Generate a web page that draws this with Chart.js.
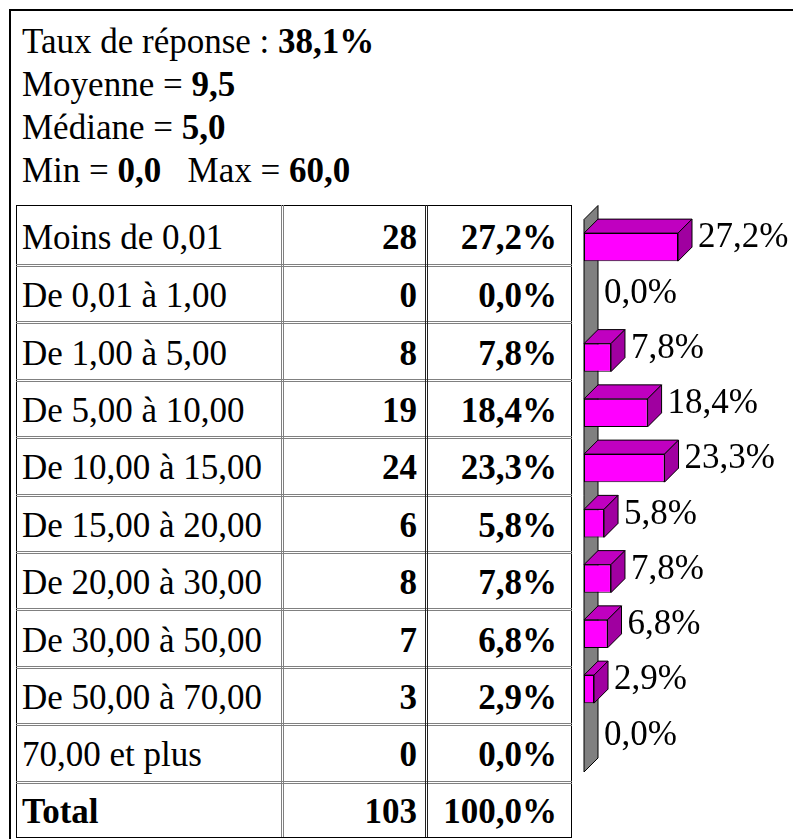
<!DOCTYPE html>
<html lang="fr">
<head>
    <meta charset="UTF-8" />
    <title>Répartition</title>
    <script src="https://cdn.jsdelivr.net/npm/chart.js"></script>
    <style>
        html, body { margin: 0; padding: 0; background: #fff; }
        body { width: 793px; height: 839px; position: relative; overflow: hidden;
               font-family: "Liberation Serif", "Times New Roman", serif; font-size: 35px; color: #000; }
        .frame { position: absolute; left: 9px; top: 9px; width: 820px; height: 860px;
                 border-top: 2px solid #000; border-left: 2px solid #000; }
        .stats { position: absolute; left: 22px; top: 20px; line-height: 43px; white-space: nowrap; }
        .tbl { position: absolute; left: 16px; top: 205px; width: 554px; height: 631px; border: 1px solid #000; }
        .hline { position: absolute; left: 16px; width: 556px; height: 0; border-top: 3px double #808080; }
        .vline { position: absolute; top: 205px; height: 632px; width: 0; border-left: 3px double #808080; }
        .cell { position: absolute; display: flex; align-items: center; white-space: nowrap;
                box-sizing: border-box; padding-top: 5px; }
        .num { justify-content: flex-end; font-weight: bold; }
        #chart { position: absolute; left: 0; top: 0; pointer-events: none; }
    </style>
</head>
<body>
    <div class="frame"></div>
    <div class="stats" id="stats"></div>
    <div class="tbl"></div>
    <div id="table"></div>
    <canvas id="chart" width="793" height="839"></canvas>

    <script>
        // data
        const categories = ['Moins de 0,01', 'De 0,01 à 1,00', 'De 1,00 à 5,00', 'De 5,00 à 10,00',
            'De 10,00 à 15,00', 'De 15,00 à 20,00', 'De 20,00 à 30,00', 'De 30,00 à 50,00',
            'De 50,00 à 70,00', '70,00 et plus'];
        const counts = [28, 0, 8, 19, 24, 6, 8, 7, 3, 0];
        const percents = [27.2, 0.0, 7.8, 18.4, 23.3, 5.8, 7.8, 6.8, 2.9, 0.0];
        const total = 103;
        const tauxReponse = 38.1;
        const moyenne = 9.5;
        const mediane = 5.0;
        const minVal = 0.0;
        const maxVal = 60.0;

        const fr = v => v.toFixed(1).replace('.', ',');

        // Stats header
        document.getElementById('stats').innerHTML =
            `Taux de réponse : <b>${fr(tauxReponse)}%</b><br>` +
            `Moyenne = <b>${fr(moyenne)}</b><br>` +
            `Médiane = <b>${fr(mediane)}</b><br>` +
            `Min = <b>${fr(minVal)}</b>&nbsp;&nbsp; Max = <b>${fr(maxVal)}</b>`;

        // Table
        const table = document.getElementById('table');
        const rowTops = [205, 265];
        for (let i = 2; i <= categories.length + 1; i++) rowTops.push(265 + (i - 1) * 57.4);
        rowTops[rowTops.length - 1] = 837;
        const colX = [16, 282, 426, 571];

        function addCell(text, col, r, cls, bold) {
            const d = document.createElement('div');
            d.className = 'cell ' + cls;
            d.style.left = (colX[col] + (col === 0 ? 6 : 0)) + 'px';
            d.style.width = (colX[col + 1] - colX[col] - (col === 0 ? 6 : col === 1 ? 9 : 14)) + 'px';
            d.style.top = rowTops[r] + 'px';
            d.style.height = (rowTops[r + 1] - rowTops[r]) + 'px';
            if (bold) d.style.fontWeight = 'bold';
            d.textContent = text;
            table.appendChild(d);
        }

        const rows = categories.map((c, i) => [c, String(counts[i]), fr(percents[i]) + '%']);
        rows.push(['Total', String(total), '100,0%']);
        rows.forEach((r, i) => {
            addCell(r[0], 0, i, '', i === rows.length - 1);
            addCell(r[1], 1, i, 'num');
            addCell(r[2], 2, i, 'num');
            if (i > 0) {
                const h = document.createElement('div');
                h.className = 'hline';
                h.style.top = (rowTops[i] - 1) + 'px';
                table.appendChild(h);
            }
        });
        [282, 426].forEach((x, k) => {
            const v = document.createElement('div');
            v.className = 'vline';
            v.style.left = (x - 1) + 'px';
            if (k === 1) v.style.borderLeftColor = '#222';
            table.appendChild(v);
        });

        // 3D look for the bars
        const depth = 14;
        const bars3d = {
            id: 'bars3d',
            beforeDatasetsDraw(chart) {
                const ctx = chart.ctx;
                const x0 = chart.scales.x.getPixelForValue(0);
                const { top, bottom } = chart.chartArea;
                ctx.save();
                ctx.beginPath();
                ctx.moveTo(x0, top);
                ctx.lineTo(x0 + depth, top - depth);
                ctx.lineTo(x0 + depth, bottom - depth);
                ctx.lineTo(x0, bottom);
                ctx.closePath();
                ctx.fillStyle = '#808080';
                ctx.fill();
                ctx.strokeStyle = '#000';
                ctx.lineWidth = 1;
                ctx.stroke();
                ctx.restore();
            },
            afterDatasetsDraw(chart) {
                const ctx = chart.ctx;
                const meta = chart.getDatasetMeta(0);
                ctx.save();
                ctx.lineWidth = 1;
                ctx.strokeStyle = '#000';
                meta.data.forEach((bar, i) => {
                    const v = percents[i];
                    const x1 = bar.x, xb = bar.base;
                    const yt = bar.y - bar.height / 2, yb = bar.y + bar.height / 2;
                    if (v > 0) {
                        // top face
                        ctx.beginPath();
                        ctx.moveTo(xb, yt);
                        ctx.lineTo(xb + depth, yt - depth);
                        ctx.lineTo(x1 + depth, yt - depth);
                        ctx.lineTo(x1, yt);
                        ctx.closePath();
                        ctx.fillStyle = '#C000C0';
                        ctx.fill();
                        ctx.stroke();
                        // side face
                        ctx.beginPath();
                        ctx.moveTo(x1, yt);
                        ctx.lineTo(x1 + depth, yt - depth);
                        ctx.lineTo(x1 + depth, yb - depth);
                        ctx.lineTo(x1, yb);
                        ctx.closePath();
                        ctx.fillStyle = '#A000A0';
                        ctx.fill();
                        ctx.stroke();
                    }
                    ctx.fillStyle = '#000';
                    ctx.font = '35px "Liberation Serif", serif';
                    ctx.textBaseline = 'middle';
                    ctx.textAlign = 'left';
                    ctx.fillText(fr(v) + '%', x1 + depth + 6, bar.y - 9);
                });
                ctx.restore();
            }
        };

        new Chart(document.getElementById('chart'), {
            type: 'bar',
            data: {
                labels: categories,
                datasets: [{
                    data: percents,
                    backgroundColor: '#FF00FF',
                    borderColor: '#000',
                    borderWidth: 1,
                    borderSkipped: false,
                    categoryPercentage: 1,
                    barPercentage: 0.507
                }]
            },
            options: {
                indexAxis: 'y',
                responsive: false,
                devicePixelRatio: 1,
                animation: false,
                layout: { padding: { left: 584, top: 219.5, right: 36.2, bottom: 67 } },
                plugins: { legend: { display: false }, tooltip: { enabled: false } },
                scales: {
                    x: { display: false, min: 0, max: 50 },
                    y: { display: false }
                }
            },
            plugins: [bars3d]
        });
    </script>
</body>
</html>
